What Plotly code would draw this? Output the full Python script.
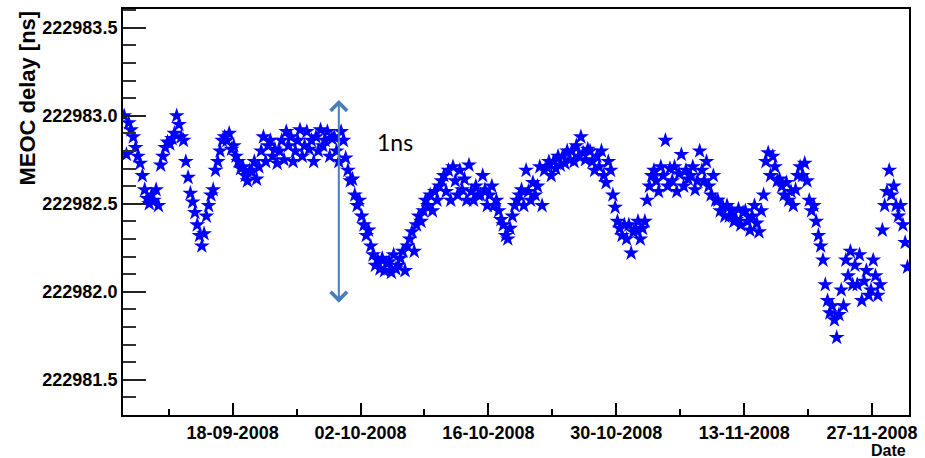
import pandas as pd
import plotly.graph_objects as go

# MEOC delay samples (ns), four readings per day (every 6 h)
delay_sep = [
    222983.00, 222982.78, 222982.96, 222982.92,
    222982.88, 222982.82, 222982.77, 222982.73,
    222982.66, 222982.58, 222982.53, 222982.50,
    222982.55, 222982.52, 222982.58, 222982.49,
    222982.72, 222982.77, 222982.82, 222982.85,
    222982.84, 222982.87, 222982.90, 222983.00,
    222982.95, 222982.88, 222982.86, 222982.74,
    222982.65, 222982.56, 222982.51, 222982.45,
    222982.38, 222982.32, 222982.26, 222982.33,
    222982.43, 222982.49, 222982.55, 222982.58,
    222982.69, 222982.74, 222982.80, 222982.86,
    222982.88, 222982.86, 222982.90, 222982.81,
    222982.83, 222982.77, 222982.74, 222982.70,
    222982.71, 222982.66, 222982.63, 222982.69,
    222982.68, 222982.74, 222982.64, 222982.71,
    222982.80, 222982.88, 222982.74, 222982.83,
    222982.86, 222982.77, 222982.81, 222982.73,
    222982.80, 222982.86, 222982.75, 222982.91,
    222982.83, 222982.88, 222982.74, 222982.80,
    222982.86, 222982.92, 222982.77, 222982.83,
    222982.91, 222982.81, 222982.86, 222982.74,
    222982.88, 222982.80, 222982.92, 222982.83,
    222982.86, 222982.91, 222982.77, 222982.87,
    222982.88, 222982.80, 222982.74, 222982.91,
    222982.86, 222982.76, 222982.69, 222982.63,
]
delay_oct = [
    222982.64, 222982.55, 222982.49, 222982.52,
    222982.43, 222982.38, 222982.32, 222982.35,
    222982.26, 222982.21, 222982.15, 222982.18,
    222982.13, 222982.19, 222982.12, 222982.16,
    222982.17, 222982.11, 222982.21, 222982.13,
    222982.15, 222982.19, 222982.23, 222982.12,
    222982.26, 222982.30, 222982.34, 222982.23,
    222982.38, 222982.43, 222982.40, 222982.46,
    222982.52, 222982.49, 222982.55, 222982.46,
    222982.57, 222982.52, 222982.60, 222982.63,
    222982.66, 222982.57, 222982.69, 222982.52,
    222982.71, 222982.63, 222982.55, 222982.69,
    222982.58, 222982.64, 222982.52, 222982.72,
    222982.57, 222982.52, 222982.60, 222982.55,
    222982.55, 222982.66, 222982.58, 222982.49,
    222982.55, 222982.60, 222982.49, 222982.52,
    222982.46, 222982.41, 222982.38, 222982.32,
    222982.30, 222982.36, 222982.43, 222982.49,
    222982.52, 222982.55, 222982.58, 222982.49,
    222982.69, 222982.57, 222982.52, 222982.62,
    222982.55, 222982.60, 222982.71, 222982.49,
    222982.69, 222982.71, 222982.74, 222982.66,
    222982.74, 222982.70, 222982.77, 222982.72,
    222982.77, 222982.73, 222982.80, 222982.75,
    222982.80, 222982.74, 222982.83, 222982.77,
    222982.88, 222982.79, 222982.75, 222982.81,
    222982.80, 222982.74, 222982.69, 222982.77,
    222982.71, 222982.80, 222982.66, 222982.62,
    222982.74, 222982.69, 222982.55, 222982.48,
    222982.40, 222982.36, 222982.32, 222982.38,
    222982.30, 222982.38, 222982.22, 222982.34,
]
delay_nov = [
    222982.35, 222982.40, 222982.30, 222982.36,
    222982.40, 222982.52, 222982.60, 222982.66,
    222982.69, 222982.63, 222982.57, 222982.71,
    222982.66, 222982.86, 222982.60, 222982.70,
    222982.63, 222982.71, 222982.57, 222982.67,
    222982.78, 222982.60, 222982.69, 222982.64,
    222982.66, 222982.71, 222982.58, 222982.63,
    222982.80, 222982.69, 222982.63, 222982.74,
    222982.60, 222982.55, 222982.66, 222982.52,
    222982.52, 222982.46, 222982.49, 222982.43,
    222982.49, 222982.43, 222982.46, 222982.40,
    222982.41, 222982.47, 222982.38, 222982.45,
    222982.46, 222982.40, 222982.35, 222982.43,
    222982.49, 222982.39, 222982.34, 222982.46,
    222982.55, 222982.74, 222982.79, 222982.66,
    222982.77, 222982.71, 222982.63, 222982.64,
    222982.60, 222982.55, 222982.62, 222982.52,
    222982.57, 222982.49, 222982.58, 222982.66,
    222982.71, 222982.66, 222982.73, 222982.63,
    222982.52, 222982.46, 222982.49, 222982.40,
    222982.32, 222982.26, 222982.18, 222982.04,
    222981.95, 222981.88, 222981.92, 222981.84,
    222981.74, 222981.87, 222982.01, 222981.92,
    222982.18, 222982.09, 222982.23, 222982.04,
    222982.15, 222982.04, 222982.21, 222981.95,
    222982.06, 222982.12, 222981.98, 222982.01,
    222982.18, 222982.09, 222981.98, 222982.04,
    222982.35, 222982.49, 222982.57, 222982.69,
    222982.55, 222982.60, 222982.49, 222982.43,
    222982.49, 222982.38, 222982.28, 222982.14,
]
month_starts = ["2008-09-06 03:00", "2008-10-01 03:00", "2008-11-01 03:00"]

times = []
for start, vals in zip(month_starts, [delay_sep, delay_oct, delay_nov]):
    times += list(pd.date_range(start, periods=len(vals), freq="6h"))
delays = delay_sep + delay_oct + delay_nov

x_range = ["2008-09-06 00:00", "2008-12-01 01:00"]
y_range = [222981.30, 222983.607]
y_ticks = [222981.5, 222982.0, 222982.5, 222983.0, 222983.5]
y_ticktext = ["222981.5", "222982.0", "222982.5", "222983.0", "222983.5"]

arrow_date = "2008-09-29 15:00"
arrow_top, arrow_bottom = 222983.09, 222981.93

font_main = "Liberation Sans, Arial, sans-serif"

fig = go.Figure()
fig.add_trace(go.Scatter(
    x=times, y=delays, mode="markers",
    marker=dict(symbol="star", size=12, color="#0000ff", line=dict(width=0)),
    showlegend=False,
))

DAY = 86400000
fig.update_xaxes(
    range=x_range, type="date",
    tick0="2008-09-18", dtick=14 * DAY, tickformat="%d-%m-%Y",
    ticks="inside", ticklen=12, tickwidth=1.5, tickcolor="black",
    minor=dict(ticks="inside", ticklen=6, tickwidth=1.5, tickcolor="black",
               tick0="2008-09-18", dtick=7 * DAY),
    showline=True, linecolor="black", linewidth=2, mirror=True,
    showgrid=False, zeroline=False,
    tickfont=dict(family=font_main, size=18, color="black", weight="bold"),
)
fig.update_yaxes(
    range=y_range, tickvals=y_ticks, ticktext=y_ticktext,
    ticks="inside", ticklen=23, tickwidth=2, tickcolor="#222",
    minor=dict(ticks="inside", ticklen=13, tickwidth=2, tickcolor="#333",
               tick0=222981.5, dtick=0.1),
    showline=True, linecolor="black", linewidth=2, mirror=True,
    showgrid=False, zeroline=False,
    tickfont=dict(family=font_main, size=18, color="black", weight="bold"),
)

fig.add_annotation(
    x=arrow_date, y=arrow_top, ax=arrow_date, ay=arrow_bottom,
    xref="x", yref="y", axref="x", ayref="y",
    text="", showarrow=True, arrowside="end+start",
    arrowhead=4, startarrowhead=4, arrowsize=1.6, startarrowsize=1.6,
    arrowwidth=2, arrowcolor="#4a7ebb",
)
fig.add_annotation(
    x=(395 - 123) / 787, y=1 - (141 - 7) / 408, xref="paper", yref="paper",
    text="1ns", showarrow=False, xanchor="center", yanchor="middle",
    font=dict(family="Lato, Carlito, sans-serif", size=23, color="black"),
)
fig.add_annotation(
    x=(27 - 123) / 787, y=1.0, xref="paper", yref="paper",
    text="MEOC delay [ns]", textangle=-90, showarrow=False,
    xanchor="center", yanchor="top",
    font=dict(family=font_main, size=22, color="black", weight="bold"),
)
fig.add_annotation(
    x=(909 - 123) / 787, y=-(451 - 415) / 408, xref="paper", yref="paper",
    text="Date", showarrow=False, xanchor="right", yanchor="middle",
    font=dict(family=font_main, size=16, color="black", weight="bold"),
)

fig.update_layout(
    width=925, height=458,
    margin=dict(l=123, r=15, t=7, b=43),
    paper_bgcolor="white", plot_bgcolor="white",
)
fig.write_html("out.html")
